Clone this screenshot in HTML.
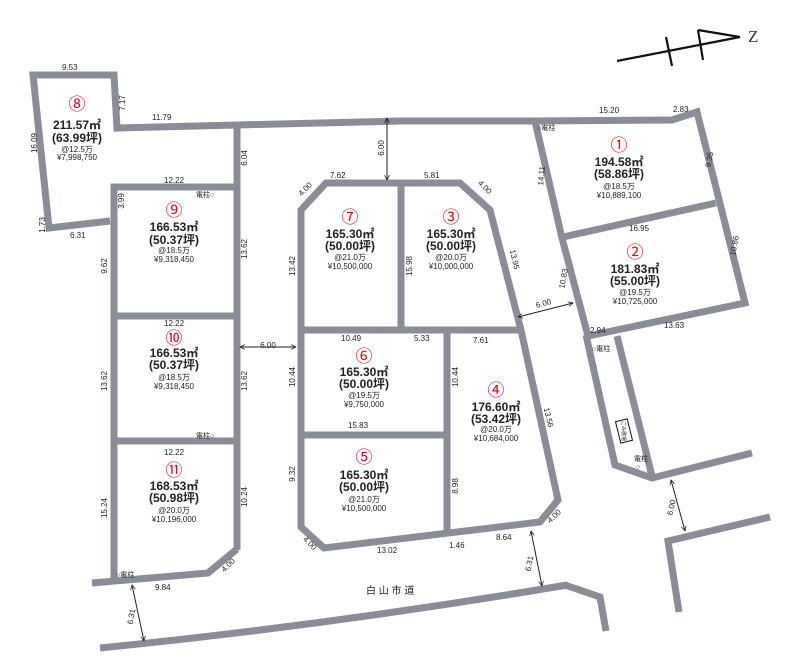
<!DOCTYPE html>
<html><head><meta charset="utf-8"><style>
html,body{margin:0;padding:0;background:#fff;}
svg{display:block;}
text{font-family:"Liberation Sans","Noto Sans CJK JP",sans-serif;fill:#222;}
.d{font-size:8px;}
.n{font-size:17px;fill:#e60012;}
.a{font-size:12px;font-weight:bold;}
.p{font-size:8px;}
</style></head><body>
<svg width="800" height="664" viewBox="0 0 800 664" xmlns="http://www.w3.org/2000/svg">
<defs><marker id="ah" viewBox="0 0 10 10" refX="9" refY="5" markerWidth="6" markerHeight="6" orient="auto-start-reverse"><path d="M1,1 L9,5 L1,9" fill="none" stroke="#222" stroke-width="1.3"/></marker></defs>
<g fill="none" stroke="#8a8d96" stroke-width="7" stroke-linejoin="miter">
<!-- top road + lot 8 -->
<polyline points="110,221 49,228 33,75 114,75 117,128 237,125 400,121 535,121 672,120 697,112 745,303 588,336 562,238 535,121"/>
<line x1="563" y1="237" x2="716" y2="203"/>
<!-- left column -->
<line x1="237" y1="124" x2="237" y2="550"/>
<polyline points="237,187 114,187 114,580"/>
<line x1="114" y1="316" x2="237" y2="316"/>
<line x1="114" y1="441" x2="237" y2="441"/>
<polyline points="92,583 208,573 237,549"/>
<!-- center block -->
<polygon points="301,210 326,183 460,183 490,210 521,330 558,500 540,522 324,548 301,527"/>
<line x1="401" y1="183" x2="401" y2="330"/>
<line x1="301" y1="330" x2="521" y2="330"/>
<line x1="447" y1="330" x2="447" y2="532"/>
<line x1="301" y1="435" x2="447" y2="435"/>
<!-- right lower road -->
<polyline points="586,335 615,465 652,478 752,453"/>
<line x1="617" y1="336" x2="652" y2="476"/>
<polyline points="770,517 668,541 679,612"/>
<!-- lower road -->
<path d="M100,648 Q330,625 567,585"/>
<polyline points="565,585 600,597 606,631"/>
</g>
<!-- north arrow -->
<g stroke="#111" stroke-width="2.2" fill="none">
<line x1="617" y1="61" x2="740" y2="37"/>
<line x1="666" y1="37" x2="672" y2="66"/>
<line x1="698" y1="30" x2="703" y2="60"/>
<line x1="698" y1="30" x2="740" y2="37"/>
</g>
<text x="748" y="42" style="font-family:'Liberation Serif',serif;font-size:17px;fill:#333">Z</text>
<!-- dimension arrows -->
<g stroke="#222" stroke-width="1" marker-start="url(#ah)" marker-end="url(#ah)">
<line x1="387" y1="118" x2="387" y2="180"/>
<line x1="240" y1="347" x2="296" y2="347"/>
<line x1="518" y1="317" x2="573" y2="303"/>
<line x1="132" y1="585" x2="144" y2="641"/>
<line x1="531" y1="531" x2="542" y2="586"/>
<line x1="671" y1="480" x2="685" y2="531"/>
</g>
<!-- garbage box -->
<rect x="618" y="420" width="12" height="22" fill="#fff" stroke="#111" stroke-width="1" transform="rotate(-14 624 431)"/>
<text x="624" y="433" text-anchor="middle" style="font-size:5px" transform="rotate(90 624 431)">ごみ置場</text>
<!-- poles -->
<g class="d" style="font-size:7px">
<text x="196" y="197">電柱○</text>
<text x="196" y="438">電柱○</text>
<text x="116" y="577">○電柱</text>
<text x="537" y="130">○電柱</text>
<text x="592" y="351">○電柱</text>
<text x="634" y="461">電柱</text><text x="636" y="469">○</text>
</g>
<!-- dimension labels -->
<g class="d">
<text x="62" y="70">9.53</text>
<text x="152" y="120">11.79</text>
<text x="164" y="183">12.22</text>
<text x="164" y="326">12.22</text>
<text x="164" y="455">12.22</text>
<text x="70" y="238">6.31</text>
<text x="155" y="590">9.84</text>
<text x="330" y="178">7.62</text>
<text x="424" y="178">5.81</text>
<text x="341" y="341">10.49</text>
<text x="414" y="341">5.33</text>
<text x="473" y="343">7.61</text>
<text x="348" y="428">15.83</text>
<text x="377" y="553">13.02</text>
<text x="449" y="548">1.46</text>
<text x="496" y="540">8.64</text>
<text x="599" y="113">15.20</text>
<text x="673" y="112">2.83</text>
<text x="629" y="231">16.95</text>
<text x="590" y="333">2.94</text>
<text x="664" y="328">13.63</text>
<text x="536" y="307" transform="rotate(-15 540 305)">6.00</text>
<text x="366" y="594" style="font-size:10px">白 山 市 道</text>
</g>
<g class="d" text-anchor="middle">
<text transform="translate(125,103) rotate(-90)">7.17</text>
<text transform="translate(37,143) rotate(-90)">16.09</text>
<text transform="translate(45,225) rotate(-90)">1.73</text>
<text transform="translate(247,158) rotate(-90)">6.04</text>
<text transform="translate(124,201) rotate(-90)">3.99</text>
<text transform="translate(107,266) rotate(-90)">9.62</text>
<text transform="translate(247,249) rotate(-90)">13.62</text>
<text transform="translate(107,381) rotate(-90)">13.62</text>
<text transform="translate(247,381) rotate(-90)">13.62</text>
<text transform="translate(107,508) rotate(-90)">15.24</text>
<text transform="translate(247,497) rotate(-90)">10.24</text>
<text transform="translate(384,148) rotate(-90)">6.00</text>
<text transform="translate(295,266) rotate(-90)">13.42</text>
<text transform="translate(412,266) rotate(-90)">15.98</text>
<text transform="translate(295,377) rotate(-90)">10.44</text>
<text transform="translate(458,377) rotate(-90)">10.44</text>
<text transform="translate(295,474) rotate(-90)">9.32</text>
<text transform="translate(458,486) rotate(-90)">8.98</text>
<text transform="translate(268,348)">6.00</text>
<text transform="translate(307,191) rotate(-45)">4.00</text>
<text transform="translate(483,189) rotate(45)">4.00</text>
<text transform="translate(512,260) rotate(77)">13.95</text>
<text transform="translate(546,418) rotate(77)">13.56</text>
<text transform="translate(544,176) rotate(-85)">14.11</text>
<text transform="translate(566,279) rotate(-80)">10.83</text>
<text transform="translate(712,160) rotate(-80)">9.35</text>
<text transform="translate(737,246) rotate(-80)">10.86</text>
<text transform="translate(308,545) rotate(45)">4.00</text>
<text transform="translate(230,567) rotate(-45)">4.00</text>
<text transform="translate(556,518) rotate(-45)">4.00</text>
<text transform="translate(134,617) rotate(-80)">6.31</text>
<text transform="translate(532,564) rotate(-80)">6.31</text>
<text transform="translate(674,508) rotate(-78)">6.00</text>
</g>
<!-- lot labels -->
<g text-anchor="middle">
<text class="n" x="77" y="110">⑧</text><text class="a" x="77" y="129">211.57㎡</text><text class="a" x="77" y="142">(63.99坪)</text><text class="p" x="77" y="152">@12.5万</text><text class="p" x="77" y="160">¥7,998,750</text>
<text class="n" x="174" y="216">⑨</text><text class="a" x="174" y="231">166.53㎡</text><text class="a" x="174" y="244">(50.37坪)</text><text class="p" x="174" y="253">@18.5万</text><text class="p" x="174" y="262">¥9,318,450</text>
<text class="n" x="174" y="344">⑩</text><text class="a" x="174" y="357">166.53㎡</text><text class="a" x="174" y="369">(50.37坪)</text><text class="p" x="174" y="380">@18.5万</text><text class="p" x="174" y="389">¥9,318,450</text>
<text class="n" x="174" y="476">⑪</text><text class="a" x="174" y="490">168.53㎡</text><text class="a" x="174" y="502">(50.98坪)</text><text class="p" x="174" y="513">@20.0万</text><text class="p" x="174" y="522">¥10,196,000</text>
<text class="n" x="350" y="223">⑦</text><text class="a" x="350" y="238">165.30㎡</text><text class="a" x="350" y="250">(50.00坪)</text><text class="p" x="350" y="260">@21.0万</text><text class="p" x="350" y="269">¥10,500,000</text>
<text class="n" x="451" y="223">③</text><text class="a" x="451" y="238">165.30㎡</text><text class="a" x="451" y="250">(50.00坪)</text><text class="p" x="451" y="260">@20.0万</text><text class="p" x="451" y="269">¥10,000,000</text>
<text class="n" x="619" y="151">①</text><text class="a" x="619" y="166">194.58㎡</text><text class="a" x="619" y="178">(58.86坪)</text><text class="p" x="619" y="189">@18.5万</text><text class="p" x="619" y="198">¥10,889,100</text>
<text class="n" x="635" y="258">②</text><text class="a" x="635" y="273">181.83㎡</text><text class="a" x="635" y="285">(55.00坪)</text><text class="p" x="635" y="295">@19.5万</text><text class="p" x="635" y="304">¥10,725,000</text>
<text class="n" x="364" y="362">⑥</text><text class="a" x="364" y="376">165.30㎡</text><text class="a" x="364" y="388">(50.00坪)</text><text class="p" x="364" y="398">@19.5万</text><text class="p" x="364" y="407">¥9,750,000</text>
<text class="n" x="364" y="463">⑤</text><text class="a" x="364" y="479">165.30㎡</text><text class="a" x="364" y="491">(50.00坪)</text><text class="p" x="364" y="502">@21.0万</text><text class="p" x="364" y="511">¥10,500,000</text>
<text class="n" x="496" y="396">④</text><text class="a" x="496" y="411">176.60㎡</text><text class="a" x="496" y="423">(53.42坪)</text><text class="p" x="496" y="432">@20.0万</text><text class="p" x="496" y="441">¥10,684,000</text>
</g>
</svg>
</body></html>
